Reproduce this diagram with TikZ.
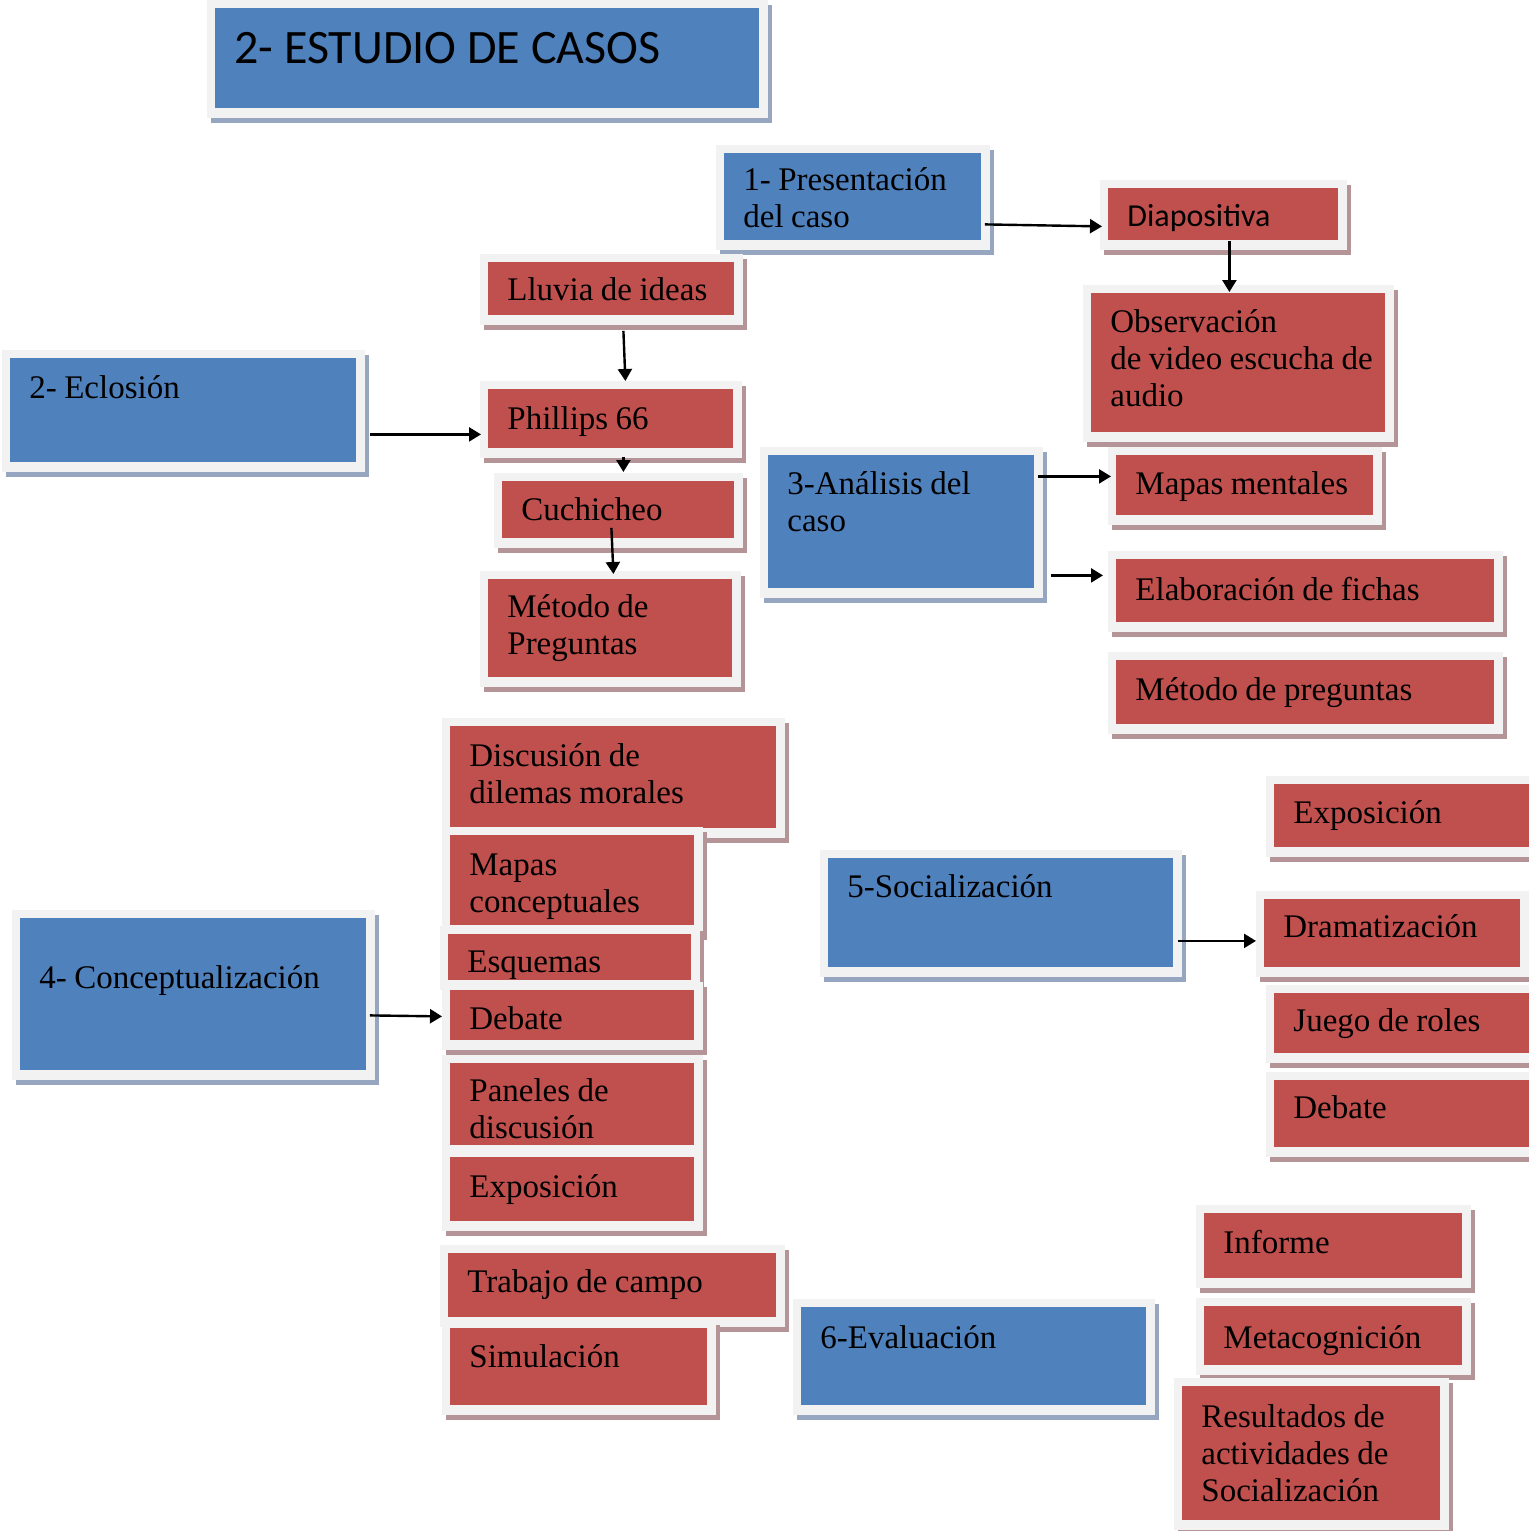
\documentclass[tikz,border=0pt]{standalone}
\usepackage{fontspec}
\setmainfont{Liberation Serif}[WordSpace=0.9]
\newfontfamily\calibri{Carlito}
\usetikzlibrary{shadows,arrows.meta}
\definecolor{marco}{HTML}{F2F2F2}
\definecolor{colrojo}{HTML}{C0504D}
\definecolor{colazul}{HTML}{4F81BD}
\definecolor{sombraroja}{RGB}{180,148,150}
\definecolor{sombraazul}{RGB}{150,166,192}
\def\cajafont{\fontsize{16.5}{18.5}\selectfont}
\def\titulofont{\calibri\fontsize{24}{28}\selectfont}
\def\diapofont{\calibri\fontsize{16}{19}\selectfont}
\tikzset{
  caja/.style={rectangle, anchor=north west, fill=marco, inner xsep=13.5pt, inner ysep=0pt, align=left, font=\cajafont,
    execute at begin node={\spaceskip=0pt\xspaceskip=0pt\relax}},
  relleno/.style={path picture={\fill[#1] ([shift={(4pt,-4pt)}]path picture bounding box.north west) rectangle ([shift={(-4.5pt,5pt)}]path picture bounding box.south east);}},
  roja/.style={caja, relleno=colrojo, drop shadow={shadow xshift=2pt, shadow yshift=-2.5pt, fill=sombraroja, opacity=1}},
  azul/.style={caja, relleno=colazul, drop shadow={shadow xshift=2pt, shadow yshift=-2.5pt, fill=sombraazul, opacity=1}},
  medidas/.style n args={3}{text width=#1pt, text height=#2pt, text depth=#3pt},
  flecha/.style={line width=1.2pt, -{Triangle[length=6pt,width=7pt]}},
}

\begin{document}
\begin{tikzpicture}[x=0.5pt,y=-0.5pt]
  \path[use as bounding box, fill=white] (0,0) rectangle (1529,1531);

  \node[azul, font=\titulofont, medidas={253.5}{31.5}{27.5}] (titulo) at (207,0) {2- ESTUDIO DE CASOS};

  % presentacion
  \node[azul, medidas={110}{22.5}{30}] (presentacion) at (716,145) {1- Presentación\\del caso};
  \node[roja, font=\diapofont, medidas={96.5}{23}{12}] (diapositiva) at (1100,180) {Diapositiva};
  \node[roja, medidas={128.5}{23.5}{55}] (observacion) at (1083,285) {Observación\\\mbox{de video escucha de}\\audio};

  % eclosion
  \node[roja, medidas={104.5}{23}{12.5}] (lluvia) at (480,254) {Lluvia de ideas};
  \node[azul, medidas={154.5}{24}{37}] (eclosion) at (2,350) {2- Eclosión};
  \node[roja, medidas={104}{24}{14.5}] (phillips) at (480,381) {Phillips 66};
  \node[roja, medidas={97.5}{23.5}{14}] (cuchicheo) at (494,473) {Cuchicheo};
  \node[roja, medidas={103.5}{23}{35}] (metodo) at (480,571) {Método de\\Preguntas};

  % analisis
  \node[azul, medidas={114.5}{23.5}{52}] (analisis) at (760,447) {3-Análisis del\\caso};
  \node[roja, medidas={110}{23.5}{15.5}] (mentales) at (1108,447) {Mapas mentales};
  \node[roja, medidas={170.5}{24.5}{16}] (fichas) at (1108,551) {Elaboración de fichas};
  \node[roja, medidas={170.5}{24}{17}] (preguntas) at (1108,652) {Método de preguntas};

  % conceptualizacion
  \node[azul, medidas={154.5}{39}{46}] (concepto) at (12,910) {4- Conceptualización};
  \node[roja, medidas={144.5}{24}{36}] (dilemas) at (442,718) {Discusión de\\dilemas morales};
  \node[roja, medidas={103.5}{24}{30}] (conceptuales) at (442,827) {Mapas\\conceptuales};
  \node[roja, medidas={103}{23}{9}] (esquemas) at (440,926) {Esquemas};
  \node[roja, medidas={103.5}{23.5}{10.5}] (debate) at (442,982) {Debate};
  \node[roja, medidas={103.5}{23}{27}] (paneles) at (442,1055) {Paneles de\\discusión};
  \node[roja, medidas={103.5}{24}{17}] (exposicion) at (442,1149) {Exposición};
  \node[roja, medidas={145.5}{23.5}{17.5}] (trabajo) at (440,1245) {Trabajo de campo};
  \node[roja, medidas={110}{23.5}{24}] (simulacion) at (442,1320) {Simulación};

  % socializacion
  \node[azul, medidas={154}{23.5}{40}] (socializacion) at (820,850) {5-Socialización};
  \node[roja, medidas={113}{23.5}{17}] (exposicionb) at (1266,776) {Exposición};
  \node[roja, medidas={109.5}{23}{20}] (drama) at (1256,891) {Dramatización};
  \node[roja, medidas={113}{23}{16}] (roles) at (1266,985) {Juego de roles};
  \node[roja, medidas={113}{23}{19.5}] (debateb) at (1266,1072) {Debate};

  % evaluacion
  \node[azul, medidas={154}{24.5}{33.5}] (evaluacion) at (793,1299) {6-Evaluación};
  \node[roja, medidas={110.5}{24}{17.5}] (informe) at (1196,1205) {Informe};
  \node[roja, medidas={110.5}{25}{13.5}] (metacognicion) at (1196,1298) {Metacognición};
  \node[roja, medidas={110.5}{24.5}{51.5}] (resultados) at (1174,1378) {Resultados de\\actividades de\\Socialización};

  \draw[flecha] ([shift={(-6,26.5)}]presentacion.east) -- ([shift={(2,11)}]diapositiva.west);
  \draw[flecha] ([shift={(5.5,-10)}]diapositiva.south) -- ([shift={(-9.5,7)}]observacion.north);
  \draw[flecha] ([shift={(11.5,5)}]lluvia.south) -- ([shift={(14,0)}]phillips.north);
  \draw[flecha] ([shift={(4,23)}]eclosion.east) -- ([shift={(1,14.5)}]phillips.west);
  \draw[flecha] ([shift={(12,-2)}]phillips.south) -- ([shift={(4.5,-1)}]cuchicheo.north);
  \draw[flecha] ([shift={(-7.5,-21)}]cuchicheo.south) -- ([shift={(2.5,3)}]metodo.north);
  \draw[flecha] ([shift={(-6,-46.5)}]analisis.east) -- ([shift={(3,-10)}]mentales.west);
  \draw[flecha] ([shift={(7,52.5)}]analisis.east) -- ([shift={(-5,-16.5)}]fichas.west);
  \draw[flecha] ([shift={(-6,20)}]concepto.east) -- (debate.west);
  \draw[flecha] ([shift={(-5,27)}]socializacion.east) -- ([shift={(0,6.5)}]drama.west);
\end{tikzpicture}
\end{document}
